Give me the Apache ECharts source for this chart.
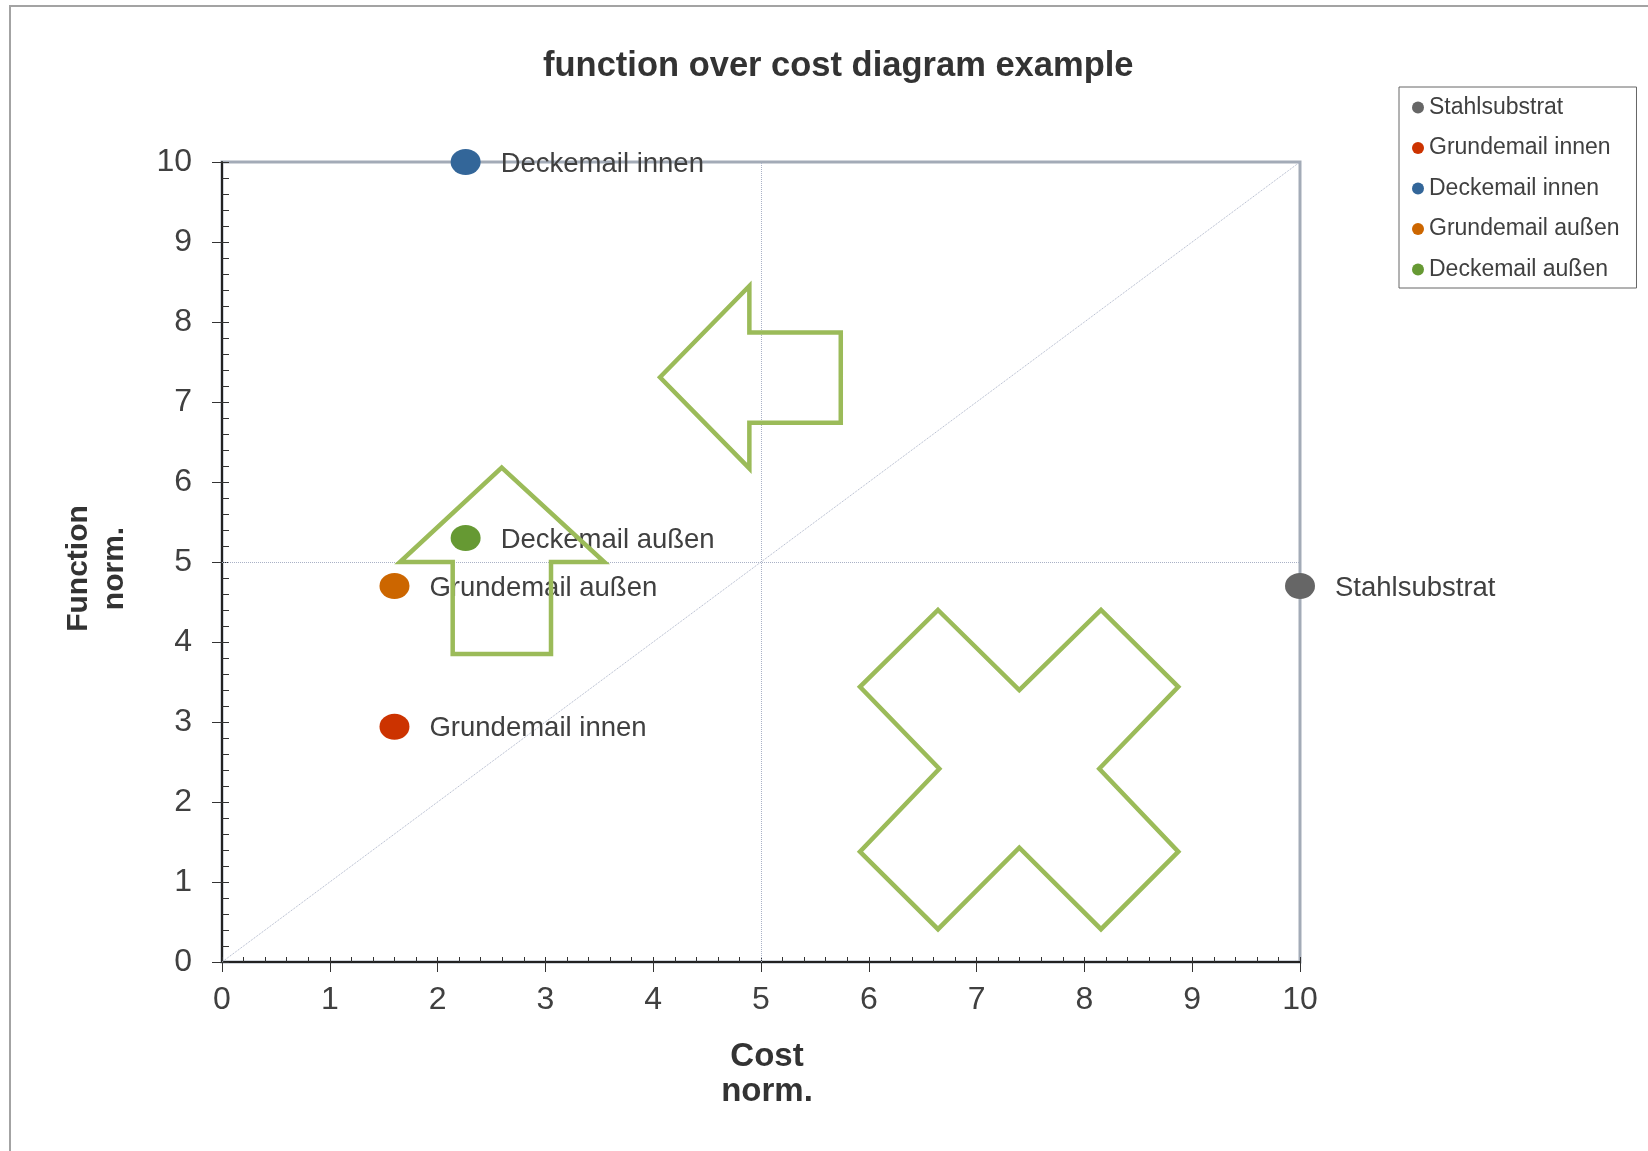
<!DOCTYPE html>
<html>
<head>
<meta charset="utf-8">
<script src="https://cdn.jsdelivr.net/npm/echarts@6/dist/echarts.min.js"></script>
<style>
html,body{margin:0;padding:0;background:#fff;}
#chart{position:absolute;left:0;top:0;width:1648px;height:1151px;}
#frame{position:absolute;left:9px;top:5px;right:0;bottom:0;border-top:2px solid #a3a3a3;border-left:2px solid #a3a3a3;pointer-events:none;}
</style>
</head>
<body>
<div id="chart"></div>
<div id="frame"></div>
<script>
// ---- data ----
const seriesNames = ['Stahlsubstrat', 'Grundemail innen', 'Deckemail innen', 'Grundemail außen', 'Deckemail außen'];
const costValues = [10, 1.6, 2.26, 1.6, 2.26];
const functionValues = [4.7, 2.94, 10, 4.7, 5.3];
const seriesColors = ['#666666', '#cc3300', '#336699', '#cc6600', '#669933'];
const xTicks = [0, 1, 2, 3, 4, 5, 6, 7, 8, 9, 10];
const yTicks = [0, 1, 2, 3, 4, 5, 6, 7, 8, 9, 10];
const guideCost = 5;
const guideFunction = 5;
const diagonalLine = [[0, 0], [10, 10]];
// annotation shapes (in data units)
const upArrowShape = [[2.595, 6.18], [3.546, 5.0], [3.052, 5.0], [3.052, 3.85], [2.14, 3.85], [2.14, 5.0], [1.651, 5.0]];
const leftArrowShape = [[4.063, 7.31], [4.892, 8.45], [4.892, 7.87], [5.74, 7.87], [5.74, 6.74], [4.892, 6.74], [4.892, 6.17]];
const crossShape = [[6.642, 4.40], [7.396, 3.40], [8.154, 4.40], [8.871, 3.44], [8.138, 2.416], [8.871, 1.38], [8.154, 0.41], [7.396, 1.43], [6.642, 0.41], [5.918, 1.38], [6.654, 2.416], [5.918, 3.44]];
const shapes = [upArrowShape, leftArrowShape, crossShape];

const FONT = "'Liberation Sans', Arial, sans-serif";
const TXT = '#404040';

const chart = echarts.init(document.getElementById('chart'), null, {renderer: 'canvas'});

const scatterSeries = seriesNames.map((name, i) => ({
  name: name,
  type: 'scatter',
  xAxisIndex: 0,
  yAxisIndex: 0,
  symbol: 'circle',
  symbolSize: [30, 26],
  itemStyle: {color: seriesColors[i], opacity: 1},
  data: [[costValues[i], functionValues[i]]],
  z: 5,
  label: {
    show: true,
    position: 'right',
    distance: 20,
    offset: [0, 2],
    formatter: name,
    fontFamily: FONT,
    fontSize: 27.5,
    color: TXT
  },
  emphasis: {disabled: true}
}));

scatterSeries[0].markLine = {
  silent: true,
  symbol: 'none',
  label: {show: false},
  z: 1,
  lineStyle: {color: '#a9b1c6', type: 'dotted', width: 1},
  data: [
    {xAxis: guideCost},
    {yAxis: guideFunction},
    [{coord: diagonalLine[0]}, {coord: diagonalLine[1]}]
  ]
};

const shapeSeries = {
  type: 'custom',
  name: 'shapes',
  xAxisIndex: 0,
  yAxisIndex: 0,
  silent: true,
  z: 10,
  clip: false,
  data: shapes.map((s, i) => [i, 0]),
  renderItem: function (params, api) {
    const pts = shapes[params.dataIndex].map(p => api.coord(p));
    return {
      type: 'polygon',
      shape: {points: pts},
      style: {fill: 'none', stroke: '#9bbb59', lineWidth: 4.5, lineJoin: 'miter'}
    };
  }
};

const option = {
  animation: false,
  backgroundColor: 'transparent',
  title: {
    text: 'function over cost diagram example',
    left: 543,
    top: 49,
    padding: 0,
    textStyle: {fontFamily: FONT, fontSize: 34.5, fontWeight: 'bold', color: '#333333'}
  },
  legend: {
    orient: 'vertical',
    left: 1399,
    top: 87,
    padding: [9, 17, 7, 13],
    itemWidth: 12,
    itemHeight: 12,
    itemGap: 17.5,
    icon: 'circle',
    borderColor: '#666666',
    borderWidth: 1,
    data: seriesNames,
    textStyle: {fontFamily: FONT, fontSize: 23, color: TXT, lineHeight: 23}
  },
  grid: {
    left: 222,
    top: 162,
    right: 348,
    bottom: 189,
    show: true,
    borderColor: '#a3abb7',
    borderWidth: 3,
    backgroundColor: 'transparent'
  },
  xAxis: [
    {
      type: 'value',
      position: 'bottom',
      min: xTicks[0],
      max: xTicks[xTicks.length - 1],
      interval: 1,
      name: 'Cost\nnorm.',
      nameLocation: 'middle',
      nameGap: 77,
      nameTextStyle: {fontFamily: FONT, fontSize: 33, fontWeight: 'bold', color: '#333333', lineHeight: 35, padding: [0, 0, 0, 12]},
      axisLine: {show: true, onZero: false, lineStyle: {color: '#222222', width: 2}},
      axisTick: {show: true, inside: false, length: 10, lineStyle: {color: '#333333', width: 1}},
      axisLabel: {show: true, margin: 22, fontFamily: FONT, fontSize: 32, color: TXT},
      splitLine: {show: false}
    },
    {
      type: 'value',
      position: 'bottom',
      offset: 0,
      min: xTicks[0],
      max: xTicks[xTicks.length - 1],
      interval: 0.2,
      axisLine: {show: false},
      axisTick: {show: true, inside: true, length: 5, lineStyle: {color: '#333333', width: 1}},
      axisLabel: {show: false},
      splitLine: {show: false}
    }
  ],
  yAxis: [
    {
      type: 'value',
      position: 'left',
      min: yTicks[0],
      max: yTicks[yTicks.length - 1],
      interval: 1,
      name: 'Function\nnorm.',
      nameLocation: 'middle',
      nameGap: 90,
      nameRotate: 90,
      nameTextStyle: {fontFamily: FONT, fontSize: 30, fontWeight: 'bold', color: '#333333', lineHeight: 35.5, padding: [0, 13, 0, 0]},
      axisLine: {show: true, onZero: false, lineStyle: {color: '#222222', width: 2}},
      axisTick: {show: true, inside: false, length: 10, lineStyle: {color: '#333333', width: 1}},
      axisLabel: {show: true, margin: 30, fontFamily: FONT, fontSize: 32, color: TXT, padding: [4, 0, 0, 0]},
      splitLine: {show: false}
    },
    {
      type: 'value',
      position: 'left',
      offset: 0,
      min: yTicks[0],
      max: yTicks[yTicks.length - 1],
      interval: 0.2,
      axisLine: {show: false},
      axisTick: {show: true, inside: true, length: 7, lineStyle: {color: '#333333', width: 1}},
      axisLabel: {show: false},
      splitLine: {show: false}
    }
  ],
  series: scatterSeries.concat([shapeSeries])
};

chart.setOption(option);
</script>
</body>
</html>
